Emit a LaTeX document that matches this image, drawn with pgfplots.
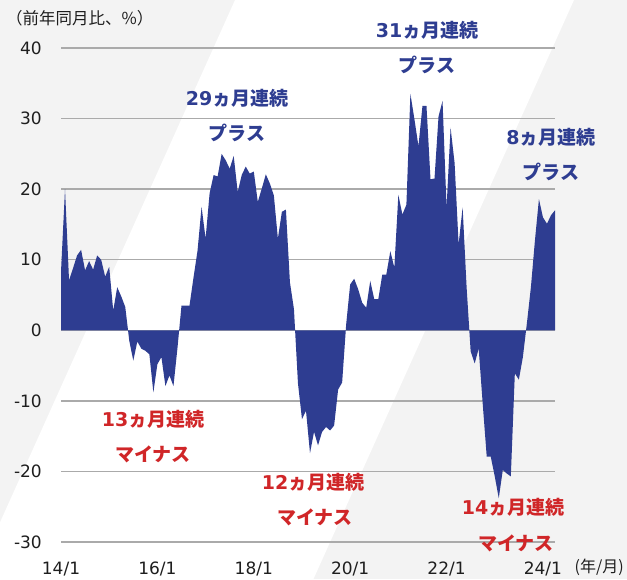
\documentclass[border=0pt]{standalone}
\usepackage{pgfplots}
\pgfplotsset{compat=1.18}
\usepackage{fontspec}
\setmainfont{DejaVu Sans}
\newfontfamily\jp{Noto Sans CJK JP}
\definecolor{areablue}{RGB}{46,61,145}
\definecolor{annred}{RGB}{208,38,40}
\definecolor{bggray}{RGB}{243,243,243}
\definecolor{gridgray}{RGB}{170,170,170}
\definecolor{tickcol}{RGB}{30,30,30}
\begin{document}
\begin{tikzpicture}
\fill[bggray] (0pt,0pt) rectangle (627pt,579pt);
\fill[white] (235pt,579pt) -- (574pt,579pt) -- (313.5pt,0pt) -- (-25.5pt,0pt) -- cycle;
\begin{axis}[
  at={(61pt,37pt)}, anchor=south west, scale only axis,
  width=494pt, height=494pt,
  xmin=0, xmax=123, ymin=-30, ymax=40,
  ytick={-30,-20,-10,0,10,20,30,40},
  yticklabels={-30,-20,-10,0,10,20,30,40},
  xtick={0,24,48,72,96,120},
  xticklabels={14/1,16/1,18/1,20/1,22/1,24/1},
  ymajorgrids, grid style={line width=1.3pt, color=gridgray},
  axis line style={draw=none}, major tick length=0pt,
  tick label style={font=\fontsize{17}{20}\selectfont, text=tickcol},
  yticklabel style={anchor=east, inner sep=0pt, xshift=-19pt},
  xticklabel style={anchor=center, inner sep=0pt, yshift=-27pt},
  /pgf/number format/assume math mode=true,
  clip=false,
]
\addplot[fill=areablue, draw=none] coordinates {
(0,0) (0,8.3) (1,20.0) (2,7.1) (3,8.8) (4,10.6) (5,11.4) (6,8.5) (7,9.8) (8,8.6) (9,10.6)
(10,10.0) (11,7.6) (12,9.0) (13,2.8) (14,6.1) (15,4.8) (16,3.3) (17,-1.5) (18,-4.3) (19,-1.6)
(20,-2.6) (21,-2.9) (22,-3.4) (23,-8.8) (24,-4.8) (25,-3.8) (26,-7.9) (27,-6.4) (28,-7.9) (29,-2.5)
(30,3.5) (31,3.5) (32,3.5) (33,7.5) (34,11.3) (35,17.5) (36,13.0) (37,19.4) (38,22.0) (39,21.8)
(40,25.0) (41,24.1) (42,22.9) (43,24.7) (44,19.6) (45,22.0) (46,23.2) (47,22.2) (48,22.5) (49,18.2)
(50,20.1) (51,22.1) (52,20.8) (53,19.1) (54,13.0) (55,16.8) (56,17.1) (57,6.8) (58,3.0) (59,-7.5)
(60,-12.6) (61,-11.4) (62,-17.4) (63,-14.4) (64,-16.3) (65,-14.4) (66,-13.7) (67,-14.2) (68,-13.5) (69,-8.4)
(70,-7.4) (71,0.8) (72,6.5) (73,7.3) (74,5.8) (75,3.9) (76,3.2) (77,7.0) (78,4.4) (79,4.4)
(80,7.9) (81,7.9) (82,11.2) (83,8.9) (84,19.2) (85,16.4) (86,17.8) (87,33.5) (88,29.9) (89,26.1)
(90,31.8) (91,31.8) (92,21.4) (93,21.5) (94,30.3) (95,32.5) (96,17.4) (97,28.7) (98,23.7) (99,12.2)
(100,17.4) (101,6.0) (102,-3.0) (103,-4.7) (104,-2.6) (105,-10.4) (106,-17.9) (107,-17.9) (108,-20.7) (109,-23.8)
(110,-19.8) (111,-20.3) (112,-20.7) (113,-6.1) (114,-7.0) (115,-3.8) (116,1.0) (117,6.1) (118,12.7) (119,18.6)
(120,16.0) (121,15.1) (122,16.3) (123,17.0) (123,0)
} \closedcycle;
\end{axis}
\node[anchor=west, inner sep=0pt, text=tickcol, font=\jp\fontsize{16.5}{19}\selectfont] at (6pt,561pt) {（前年同月比、\%）};
\node[anchor=east, inner sep=0pt, text=tickcol, font=\jp\fontsize{16}{19}\selectfont] at (624pt,12pt) {(年/月)};
\tikzset{ann/.style={inner sep=0pt, font=\fontsize{19}{22}\selectfont\bfseries}}
\node[ann, text=areablue] at (237pt,481pt) {29{\jp ヵ月連続}};
\node[ann, text=areablue] at (237pt,446pt) {{\jp プラス}};
\node[ann, text=areablue] at (427pt,549pt) {31{\jp ヵ月連続}};
\node[ann, text=areablue] at (427pt,514pt) {{\jp プラス}};
\node[ann, text=areablue] at (551pt,442pt) {8{\jp ヵ月連続}};
\node[ann, text=areablue] at (551pt,407pt) {{\jp プラス}};
\node[ann, text=annred] at (153pt,160pt) {13{\jp ヵ月連続}};
\node[ann, text=annred] at (153pt,125pt) {{\jp マイナス}};
\node[ann, text=annred] at (313pt,97pt) {12{\jp ヵ月連続}};
\node[ann, text=annred] at (315pt,62pt) {{\jp マイナス}};
\node[ann, text=annred] at (513pt,72pt) {14{\jp ヵ月連続}};
\node[ann, text=annred] at (516pt,36pt) {{\jp マイナス}};
\pgfresetboundingbox
\path[use as bounding box] (0pt,0pt) rectangle (627pt,579pt);
\end{tikzpicture}
\end{document}
